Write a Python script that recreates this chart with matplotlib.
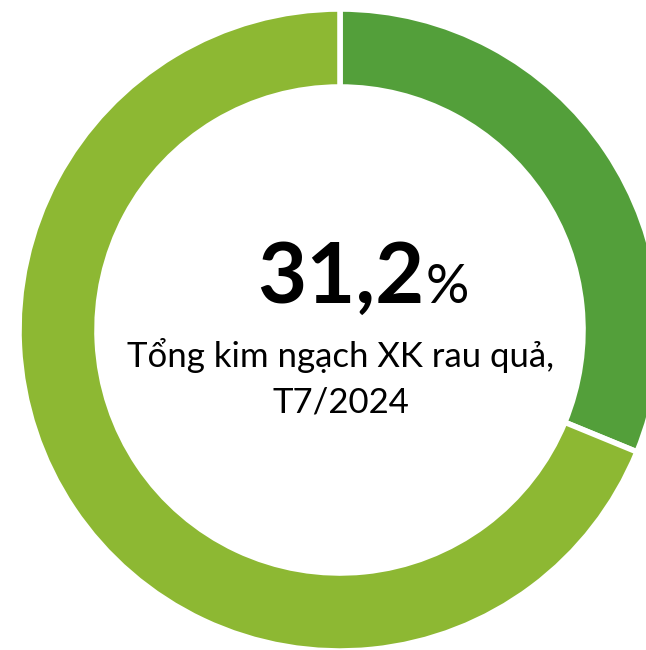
import matplotlib.pyplot as plt

# share of July 2024 fruit & vegetable exports
segments = ["Thị trường", "Còn lại"]
shares = [31.2, 68.8]
seg_colors = ["#539F3A", "#8DB833"]

caption = "Tổng kim ngạch XK rau quả,\nT7/2024"

W, H = 646, 650
fig = plt.figure(figsize=(W / 100, H / 100), dpi=100)
ax = fig.add_axes([0, 0, 1, 1])
ax.set_xlim(0, W)
ax.set_ylim(0, H)
ax.set_aspect("equal")
ax.axis("off")

ax.pie(shares, colors=seg_colors, startangle=90, counterclock=False,
       center=(340, 320), radius=321,
       wedgeprops=dict(width=78, edgecolor="white", linewidth=4))
ax.set_xlim(0, W)
ax.set_ylim(0, H)

fnt = ["Lato", "Noto Sans", "DejaVu Sans"]
big = f"{shares[0]:.1f}".replace(".", ",")
ax.text(424, 347, big, ha="right", va="baseline", fontsize=61,
        fontweight="bold", family=fnt)
ax.text(426, 347, "%", ha="left", va="baseline", fontsize=39, family=fnt)

lines = caption.split("\n")
ax.text(341, 283, lines[0], ha="center", va="baseline", fontsize=25, family=fnt)
ax.text(341, 238, lines[1], ha="center", va="baseline", fontsize=25, family=fnt)

fig.savefig("out.png", dpi=100)
